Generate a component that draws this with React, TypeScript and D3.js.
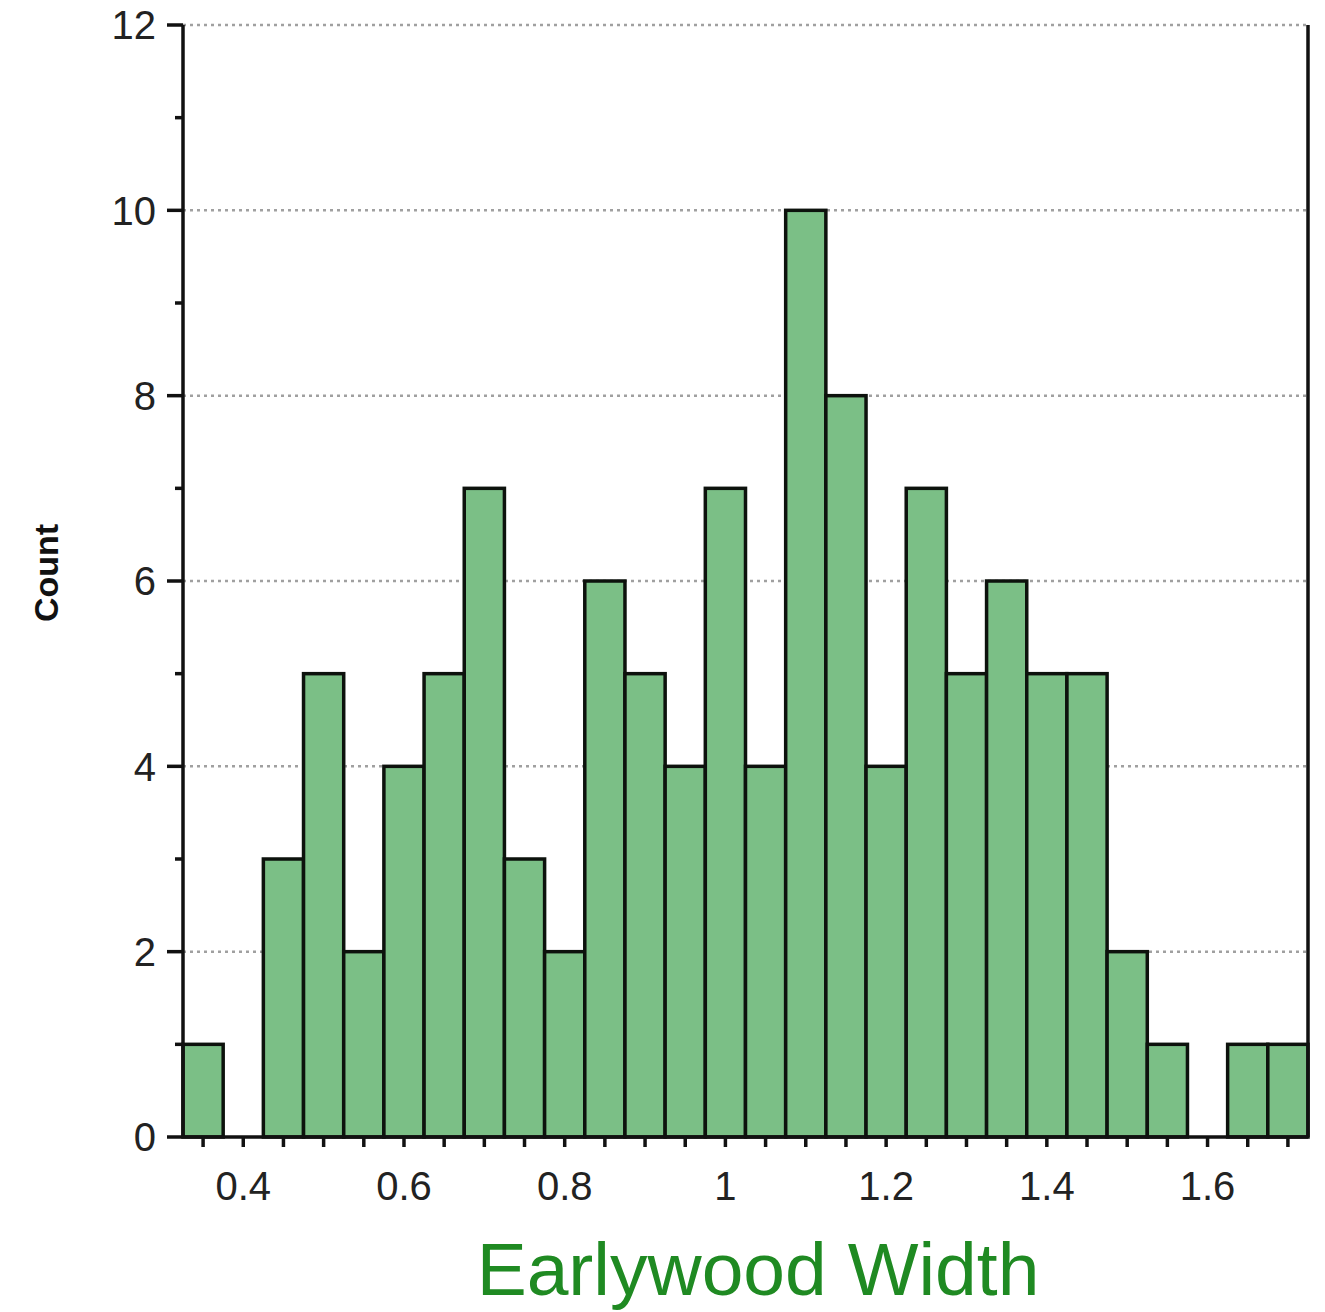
import React from 'react';
import * as d3 from 'd3';

// histogram bins: left edges and counts (bin width 0.05)
const binStarts = [
  0.325, 0.375, 0.425, 0.475, 0.525, 0.575, 0.625, 0.675, 0.725, 0.775,
  0.825, 0.875, 0.925, 0.975, 1.025, 1.075, 1.125, 1.175, 1.225, 1.275,
  1.325, 1.375, 1.425, 1.475, 1.525, 1.575, 1.625, 1.675,
];
const counts = [
  1, 0, 3, 5, 2, 4, 5, 7, 3, 2,
  6, 5, 4, 7, 4, 10, 8, 4, 7, 5,
  6, 5, 5, 2, 1, 0, 1, 1,
];
const binWidth = 0.05;

const xLabelTicks = [0.4, 0.6, 0.8, 1, 1.2, 1.4, 1.6];
const yMajorTicks = [0, 2, 4, 6, 8, 10, 12];
const yMinorTicks = [1, 3, 5, 7, 9, 11];

const xTitle = 'Earlywood Width';
const yTitle = 'Count';

const App: React.FC = () => {
  const width = 1325;
  const height = 1312;
  const margin = { top: 25, right: 17, bottom: 175, left: 183 };

  const x = d3
    .scaleLinear()
    .domain([0.325, 1.725])
    .range([margin.left, width - margin.right]);
  const y = d3
    .scaleLinear()
    .domain([0, 12])
    .range([height - margin.bottom, margin.top]);

  const [x0, x1] = x.range();
  const [y0, y1] = y.range();

  // minor x ticks every 0.05
  const xMinor = d3.range(7, 35).map((i) => i * 0.05);

  const font = "'Liberation Sans', Arial, sans-serif";

  return (
    <svg
      width={width}
      height={height}
      style={{ position: 'absolute', left: 0, top: 0, background: '#fff' }}
    >
      {/* grid */}
      {yMajorTicks
        .filter((t) => t > 0)
        .map((t) => (
          <line
            key={`g${t}`}
            x1={x0}
            x2={x1}
            y1={y(t)}
            y2={y(t)}
            stroke="#a0a0a0"
            strokeWidth={2.5}
            strokeDasharray="3,4"
          />
        ))}

      {/* bars */}
      {counts.map((c, i) =>
        c > 0 ? (
          <rect
            key={`b${i}`}
            x={x(binStarts[i])}
            y={y(c)}
            width={x(binStarts[i] + binWidth) - x(binStarts[i])}
            height={y(0) - y(c)}
            fill="#7bbf86"
            stroke="#0d120d"
            strokeWidth={3.5}
          />
        ) : null
      )}

      {/* axes lines */}
      <line x1={x0} x2={x0} y1={y1} y2={y0} stroke="#111" strokeWidth={3.5} />
      <line x1={x1} x2={x1} y1={y1} y2={y0} stroke="#111" strokeWidth={3.5} />
      <line x1={x0} x2={x1} y1={y0} y2={y0} stroke="#111" strokeWidth={3.5} />

      {/* y ticks */}
      {yMajorTicks.map((t) => (
        <g key={`y${t}`}>
          <line x1={x0 - 16} x2={x0} y1={y(t)} y2={y(t)} stroke="#111" strokeWidth={3.5} />
          <text
            x={x0 - 27}
            y={y(t)}
            dy="0.36em"
            textAnchor="end"
            fontFamily={font}
            fontSize={40}
            fill="#222"
          >
            {t}
          </text>
        </g>
      ))}
      {yMinorTicks.map((t) => (
        <line key={`ym${t}`} x1={x0 - 8} x2={x0} y1={y(t)} y2={y(t)} stroke="#111" strokeWidth={3.5} />
      ))}

      {/* x ticks */}
      {xMinor.map((t, i) => (
        <line key={`xm${i}`} x1={x(t)} x2={x(t)} y1={y0} y2={y0 + 10} stroke="#111" strokeWidth={3.5} />
      ))}
      {xLabelTicks.map((t) => (
        <text
          key={`xl${t}`}
          x={x(t)}
          y={y0 + 63}
          textAnchor="middle"
          fontFamily={font}
          fontSize={40}
          fill="#222"
        >
          {t}
        </text>
      ))}

      {/* titles */}
      <text
        x={758}
        y={1295}
        textAnchor="middle"
        fontFamily={font}
        fontSize={75}
        fill="#1f8a22"
      >
        {xTitle}
      </text>
      <text
        transform={`translate(58, 573) rotate(-90)`}
        textAnchor="middle"
        fontFamily={font}
        fontSize={34}
        fontWeight="bold"
        fill="#111"
      >
        {yTitle}
      </text>
    </svg>
  );
};

export default App;
